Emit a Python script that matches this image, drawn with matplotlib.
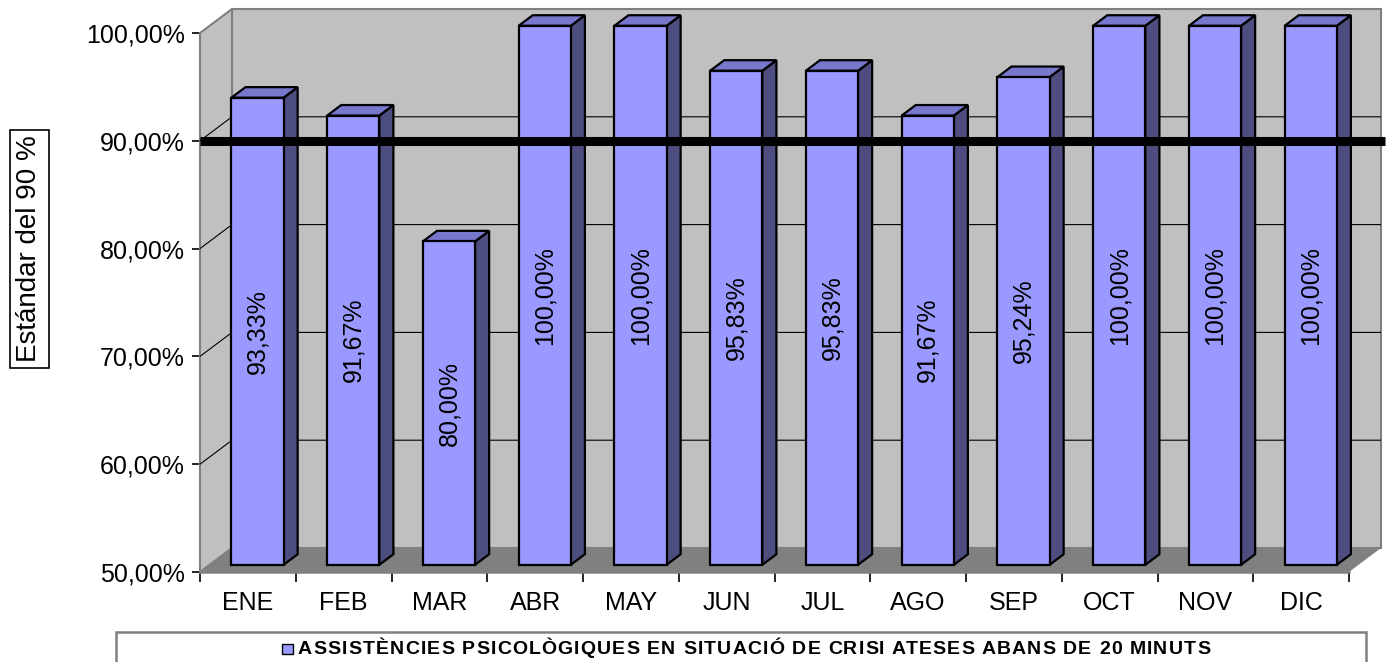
import matplotlib
matplotlib.use("Agg")
import matplotlib.pyplot as plt
import matplotlib.transforms as mtransforms
from matplotlib.patches import Polygon, Rectangle
import numpy as np

plt.rcParams['font.family'] = ['Liberation Sans', 'DejaVu Sans']

months = ["ENE", "FEB", "MAR", "ABR", "MAY", "JUN", "JUL", "AGO", "SEP", "OCT", "NOV", "DIC"]
values = [93.33, 91.67, 80.00, 100.00, 100.00, 95.83, 95.83, 91.67, 95.24, 100.00, 100.00, 100.00]
standard = 90.0
y_ticks = [50, 60, 70, 80, 90, 100]
series_name = "ASSISTÈNCIES PSICOLÒGIQUES EN SITUACIÓ DE CRISI ATESES ABANS DE 20 MINUTS"
y_title = "Estándar del 90 %"

W, H, DPI = 1388, 662, 100
fig = plt.figure(figsize=(W / DPI, H / DPI), dpi=DPI)
fig.patch.set_facecolor("white")

# front plane of the 3D box
ax = fig.add_axes([200 / W, (H - 572) / H, 1149 / W, 539 / H])
ax.set_xlim(0, len(months))
ax.set_ylim(50, 100)
ax.patch.set_visible(False)

# depth offset of the box (pixels, display coords)
DX, DY = 32.0, 24.0
ident = mtransforms.IdentityTransform()


def P(x, y, d):
    px, py = ax.transData.transform((x, y))
    return (px + d * DX, py + d * DY)


def poly(pts, fc, ec="none", lw=0.0, z=1):
    p = Polygon(pts, closed=True, facecolor=fc, edgecolor=ec, linewidth=lw,
                transform=ident, zorder=z, clip_on=False, joinstyle="miter")
    fig.add_artist(p)
    return p


def line(pts, color, lw, z=2):
    xs, ys = zip(*pts)
    l = plt.Line2D(xs, ys, color=color, linewidth=lw, transform=ident, zorder=z,
                   solid_capstyle="butt")
    fig.add_artist(l)


n = len(months)
wall = "#C0C0C0"
floor = "#808080"
edge = "#808080"

# back wall, side wall, floor
poly([P(0, 50, 1), P(n, 50, 1), P(n, 100, 1), P(0, 100, 1)], wall, edge, 1.5, z=1)
poly([P(0, 50, 0), P(0, 50, 1), P(0, 100, 1), P(0, 100, 0)], wall, edge, 1.5, z=1)
poly([P(0, 50, 0), P(n, 50, 0), P(n, 50, 1), P(0, 50, 1)], floor, "none", 0, z=1.2)

# gridlines on the walls
for v in y_ticks[1:-1]:
    line([P(0, v, 0), P(0, v, 1), P(n, v, 1)], "black", 0.8, z=1.5)

# bars
d0, d1 = 0.30, 0.74
bw = 0.545
front_c = "#9999FF"
top_c = "#7777CC"
side_c = "#4D4D80"
for i, v in enumerate(values):
    x0 = i + 0.5 - bw / 2
    x1 = i + 0.5 + bw / 2
    poly([P(x1, 50, d0), P(x1, 50, d1), P(x1, v, d1), P(x1, v, d0)], side_c, "black", 1.6, z=3)
    poly([P(x0, v, d0), P(x1, v, d0), P(x1, v, d1), P(x0, v, d1)], top_c, "black", 1.6, z=3)
    poly([P(x0, 50, d0), P(x1, 50, d0), P(x1, v, d0), P(x0, v, d0)], front_c, "black", 1.6, z=3.1)
    cx, cy = P(i + 0.5, (50 + v) / 2, d0)
    fig.text(cx / W, cy / H, f"{v:.2f}%".replace(".", ","), rotation=90,
             ha="center", va="center", fontsize=18, color="black", zorder=4)

# standard line on the front plane, running out to the right edge
sx0, sy = P(0, standard, 0)
line([(sx0, sy), (W - 3, sy)], "black", 6.5, z=5)

# front axes
for s in ["top", "right"]:
    ax.spines[s].set_visible(False)
ax.spines["left"].set_color(edge)
ax.spines["bottom"].set_color(edge)
ax.spines["left"].set_linewidth(1.8)
ax.spines["bottom"].set_linewidth(1.8)
ax.spines["left"].set_zorder(2)
ax.spines["bottom"].set_zorder(2)

ax.set_yticks(y_ticks)
ax.set_yticklabels([f"{v:.2f}%".replace(".", ",") for v in y_ticks], fontsize=18)
ax.tick_params(axis="y", length=6, width=1.2, color="black", pad=5)

ax.set_xticks(np.arange(n + 1))
ax.set_xticklabels([])
ax.set_xticks(np.arange(n) + 0.5, minor=True)
ax.set_xticklabels(months, minor=True, fontsize=18)
ax.tick_params(axis="x", which="major", length=7, width=1.2, color="black")
ax.tick_params(axis="x", which="minor", length=0, pad=14)

# boxed vertical title
fig.text(29.5 / W, (H - 249) / H, y_title, rotation=90, ha="center", va="center",
         fontsize=20, bbox=dict(boxstyle="square,pad=0.22", facecolor="white",
                                edgecolor="black", linewidth=1.2))

# legend box
leg = Rectangle((116 / W, -0.05), (1366 - 116) / W, (H - 632) / H + 0.05,
                transform=fig.transFigure, facecolor="white", edgecolor=edge,
                linewidth=1.8, zorder=1)
fig.add_artist(leg)
mk = Rectangle((282 / W, (H - 654) / H), 10.5 / W, 10.5 / H, transform=fig.transFigure,
               facecolor=front_c, edgecolor="black", linewidth=1.0, zorder=2)
fig.add_artist(mk)

# legend label, laid out glyph by glyph with extra tracking
renderer = fig.canvas.get_renderer()
leg_x0, leg_x1, leg_y = 298.0, 1210.0, H - 649.0
leg_fs = 14


def text_w(s):
    t = fig.text(0, 0, s, fontsize=leg_fs, fontweight="bold")
    w = t.get_window_extent(renderer).width
    t.remove()
    return w


full_w = text_w(series_name)
track = (leg_x1 - leg_x0 - full_w) / (len(series_name) - 1)
for i, ch in enumerate(series_name):
    if ch == " ":
        continue
    right = leg_x0 + text_w(series_name[:i + 1]) + i * track
    fig.text(right / W, leg_y / H, ch, ha="right", va="center",
             fontsize=leg_fs, fontweight="bold", zorder=3)

fig.savefig("out.png", dpi=DPI, facecolor="white")
